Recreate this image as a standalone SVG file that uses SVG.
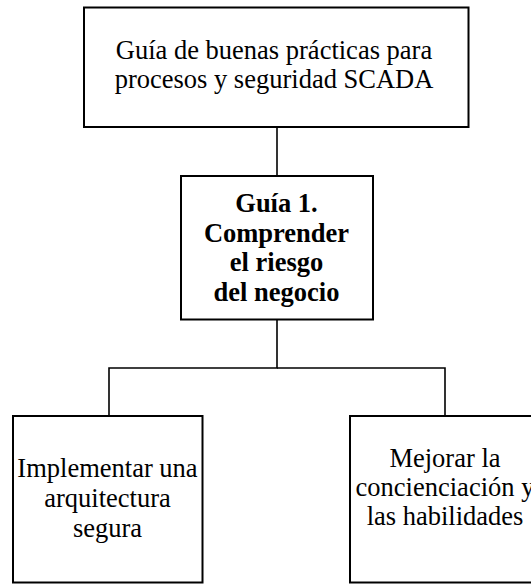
<svg xmlns="http://www.w3.org/2000/svg" width="531" height="584" viewBox="0 0 531 584">
<style>
.box{fill:#fff;stroke:#000;stroke-width:2}
.t{font-family:"Liberation Serif","Times New Roman",serif;font-size:26.5px;fill:#000;text-anchor:middle}
.b{font-weight:bold}
.c{fill:none;stroke:#000;stroke-width:1.6}
</style>
<rect width="531" height="584" fill="#fff"/>
<g id="connectors">
<line class="c" x1="277" y1="127" x2="277" y2="176"/>
<polyline class="c" points="277,320 277,368 109,368 109,416"/>
<polyline class="c" points="277,368 445,368 445,416"/>
</g>
<g id="top">
<rect class="box" x="84" y="7.5" width="384.5" height="119.5"/>
<text class="t" x="274" y="59">Guía de buenas prácticas para</text>
<text class="t" x="274" y="88">procesos y seguridad SCADA</text>
</g>
<g id="guia1">
<rect class="box" x="181" y="176" width="192" height="143.5"/>
<text class="t b" x="276.5" y="212">Guía 1.</text>
<text class="t b" x="276.5" y="241.5">Comprender</text>
<text class="t b" x="276.5" y="271">el riesgo</text>
<text class="t b" x="276.5" y="300.5">del negocio</text>
</g>
<g id="arquitectura">
<rect class="box" x="13" y="416" width="189.5" height="166.5"/>
<text class="t" x="107.5" y="477">Implementar una</text>
<text class="t" x="107.5" y="507">arquitectura</text>
<text class="t" x="107.5" y="537">segura</text>
</g>
<g id="concienciacion">
<rect class="box" x="350" y="416" width="192" height="166.5"/>
<text class="t" x="445" y="467">Mejorar la</text>
<text class="t" x="445" y="496">concienciación y</text>
<text class="t" x="445" y="525">las habilidades</text>
</g>
</svg>
